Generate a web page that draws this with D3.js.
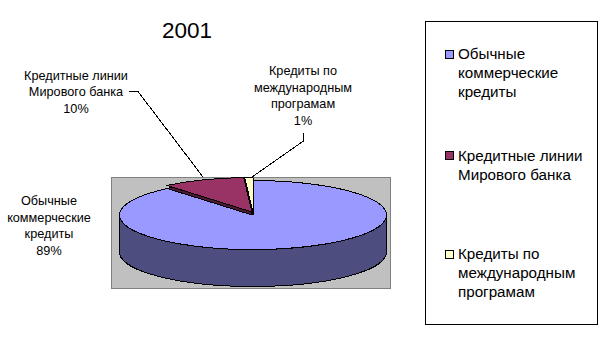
<!DOCTYPE html>
<html lang="en">
<head>
    <meta charset="UTF-8">
    <title>2001</title>
    <script src="https://d3js.org/d3.v7.min.js"></script>
    <style>
        html, body { margin: 0; padding: 0; background: #fff; }
        svg { display: block; }
        text { font-family: "Liberation Sans", Arial, sans-serif; fill: #000; }
        .label { font-size: 12.7px; text-anchor: middle; }
        .legend-text { font-size: 15.2px; }
        .face { stroke: #000; stroke-width: 1; vector-effect: non-scaling-stroke; stroke-linejoin: round; shape-rendering: crispEdges; }
    </style>
</head>
<body>
<script>
// Data
const title = "2001";
const categories = ["Обычные коммерческие кредиты", "Кредитные линии Мирового банка", "Кредиты по международным програмам"];
const shares = [89, 10, 1];
const fills = ["#9999ff", "#993366", "#ffffcc"];
const darkFills = ["#4d4d80", "#4d1a33", "#80805f"];
const legendLines = [
    ["Обычные", "коммерческие", "кредиты"],
    ["Кредитные линии", "Мирового банка"],
    ["Кредиты по", "международным", "програмам"]
];
const labelLines = [
    ["Обычные", "коммерческие", "кредиты", "89%"],
    ["Кредитные линии", "Мирового банка", "10%"],
    ["Кредиты по", "международным", "програмам", "1%"]
];

const width = 606, height = 364;
const svg = d3.select("body").append("svg")
    .attr("width", width)
    .attr("height", height);

svg.append("text")
    .attr("x", 187)
    .attr("y", 38)
    .attr("text-anchor", "middle")
    .style("font-size", "22.5px")
    .text(title);

// Grey plot area
svg.append("rect")
    .attr("x", 111.5).attr("y", 177.5)
    .attr("width", 279).attr("height", 111)
    .attr("fill", "#c0c0c0")
    .attr("stroke", "#808080");

// Pie, flattened by a y scale on the group
const rx = 133.5, ry = 34.5, depth = 37;
const cx = 253, cy = 215;
const squash = ry / rx;
const pieData = d3.pie().sort(null).value(d => d)(shares);
const arc = d3.arc().innerRadius(0).outerRadius(rx);

function flat(dx, dy) {
    return `translate(${cx + dx},${cy + dy}) scale(1,${squash})`;
}

// Outer wall of the big slice
const wall = d3.path();
const d = depth / squash;
wall.moveTo(rx, 0);
wall.arc(0, 0, rx, 0, Math.PI);
wall.lineTo(-rx, d);
wall.arc(0, d, rx, Math.PI, 0, true);
wall.closePath();
svg.append("path")
    .attr("class", "face")
    .attr("transform", flat(0, 0))
    .attr("d", wall.toString())
    .attr("fill", darkFills[0]);

svg.append("path")
    .attr("class", "face")
    .attr("transform", flat(0, 0))
    .attr("d", arc(pieData[0]))
    .attr("fill", fills[0]);

// The two small slices are pulled out and lifted a little
const lift = [null, {x: -1, y: -3}, {x: 0, y: -3}];
[1, 2].forEach(i => {
    svg.append("path")
        .attr("class", "face")
        .attr("transform", flat(lift[i].x, lift[i].y + 3))
        .attr("d", arc(pieData[i]))
        .attr("fill", darkFills[i]);
    svg.append("path")
        .attr("class", "face")
        .attr("transform", flat(lift[i].x, lift[i].y))
        .attr("d", arc(pieData[i]))
        .attr("fill", fills[i]);
});

// Leader lines
const leaders = [
    [[129, 91.5], [138, 91.5], [203, 177]],
    [[303.5, 133], [303.5, 141], [252, 177]]
];
const line = d3.line();
leaders.forEach(pts => {
    svg.append("path")
        .attr("d", line(pts))
        .attr("fill", "none")
        .attr("stroke", "#000")
        .attr("shape-rendering", "crispEdges");
});

// Data labels
const labelPos = [
    {x: 49, y: 205, step: 16.6},
    {x: 76, y: 79.5, step: 16.8},
    {x: 303, y: 75, step: 16.7}
];
labelLines.forEach((lines, i) => {
    const t = svg.append("text").attr("class", "label");
    lines.forEach((s, j) => {
        t.append("tspan")
            .attr("x", labelPos[i].x)
            .attr("y", labelPos[i].y + j * labelPos[i].step)
            .text(s);
    });
});

// Legend
svg.append("rect")
    .attr("x", 425.5).attr("y", 21.5)
    .attr("width", 172).attr("height", 303)
    .attr("fill", "#fff")
    .attr("stroke", "#000");

const legendBase = [59, 160.5, 259];
categories.forEach((c, i) => {
    svg.append("rect")
        .attr("x", 445.5).attr("y", Math.floor(legendBase[i]) - 8.5)
        .attr("width", 8).attr("height", 8)
        .attr("fill", fills[i])
        .attr("stroke", "#000");
    const t = svg.append("text").attr("class", "legend-text");
    legendLines[i].forEach((s, j) => {
        t.append("tspan")
            .attr("x", 458)
            .attr("y", legendBase[i] + j * 19)
            .text(s);
    });
});
</script>
</body>
</html>
